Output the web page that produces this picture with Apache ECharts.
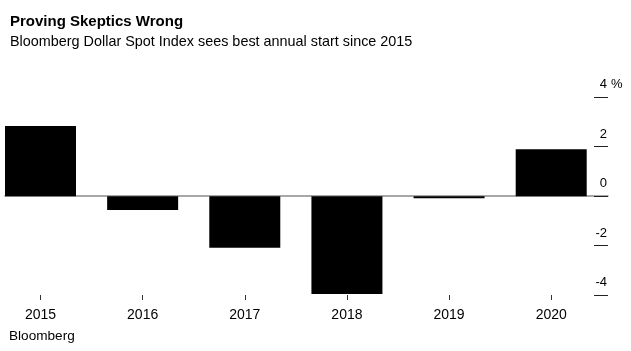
<!DOCTYPE html>
<html>
<head>
<meta charset="utf-8">
<script src="https://cdn.jsdelivr.net/npm/echarts@6/dist/echarts.min.js"></script>
<style>
  html, body { margin: 0; padding: 0; background: #fff; }
  #chart { width: 631px; height: 351px; }
</style>
</head>
<body>
<div id="chart"></div>
<script>
const years = ["2015", "2016", "2017", "2018", "2019", "2020"];
const changes = [2.84, -0.56, -2.09, -3.96, -0.08, 1.9];
const yTicks = [-4, -2, 0, 2, 4];

const font = "'Liberation Sans', Arial, sans-serif";

var chart = echarts.init(document.getElementById("chart"));

const option = {
  animation: false,
  textStyle: { fontFamily: font },
  title: [
    {
      text: "Proving Skeptics Wrong",
      left: 5,
      top: 9,
      textStyle: { fontSize: 15, fontWeight: "bold", color: "#000", fontFamily: font }
    },
    {
      text: "Bloomberg Dollar Spot Index sees best annual start since 2015",
      left: 5,
      top: 30,
      textStyle: { fontSize: 14.4, fontWeight: "normal", color: "#000", fontFamily: font }
    },
    {
      text: "Bloomberg",
      left: 4,
      top: 324,
      textStyle: { fontSize: 13.6, fontWeight: "normal", color: "#000", fontFamily: font }
    }
  ],
  grid: { left: 5, right: 23, top: 97.3, bottom: 56 },
  xAxis: [
    {
      // ticks and year labels at the bottom
      type: "value",
      min: -0.3476,
      max: 5.556,
      position: "bottom",
      splitLine: { show: false },
      axisLine: { show: false, onZero: false },
      axisTick: {
        show: true,
        length: 5,
        customValues: years.map((y, i) => i),
        lineStyle: { color: "#333", width: 1 }
      },
      axisLabel: {
        customValues: years.map((y, i) => i),
        formatter: (v) => years[Math.round(v)],
        fontSize: 14,
        color: "#000",
        margin: 13,
        fontFamily: font
      }
    },
    {
      // zero line
      type: "value",
      min: -0.3476,
      max: 5.556,
      position: "bottom",
      splitLine: { show: false },
      axisLine: { show: true, onZero: true, lineStyle: { color: "#8a8a8a", width: 1.5 } },
      axisTick: { show: false },
      axisLabel: { show: false }
    }
  ],
  yAxis: {
    type: "value",
    position: "right",
    min: -4,
    max: 4,
    interval: 2,
    splitLine: { show: false },
    axisLine: { show: false, onZero: false },
    axisTick: { show: true, inside: true, length: 14, lineStyle: { color: "#222", width: 1 } },
    axisLabel: {
      inside: true,
      margin: 1,
      fontSize: 13,
      color: "#000",
      verticalAlign: "bottom",
      padding: [0, 0, 6, 0],
      fontFamily: font
    }
  },
  series: [
    {
      type: "bar",
      xAxisIndex: 0,
      yAxisIndex: 0,
      barWidth: 71,
      itemStyle: { color: "#000" },
      data: changes.map((v, i) => [i, v])
    }
  ]
};

chart.setOption(option);

// unit label next to the top tick value
const topTick = yTicks[yTicks.length - 1];
const topY = chart.convertToPixel({ yAxisIndex: 0 }, topTick);
const rightX = chart.getWidth() - option.grid.right;
chart.setOption({
  graphic: [
    {
      type: "text",
      x: rightX + 3,
      y: topY - 6,
      style: {
        text: "%",
        font: "13px " + font,
        fill: "#000",
        textAlign: "left",
        textVerticalAlign: "bottom"
      }
    }
  ]
});
</script>
</body>
</html>
